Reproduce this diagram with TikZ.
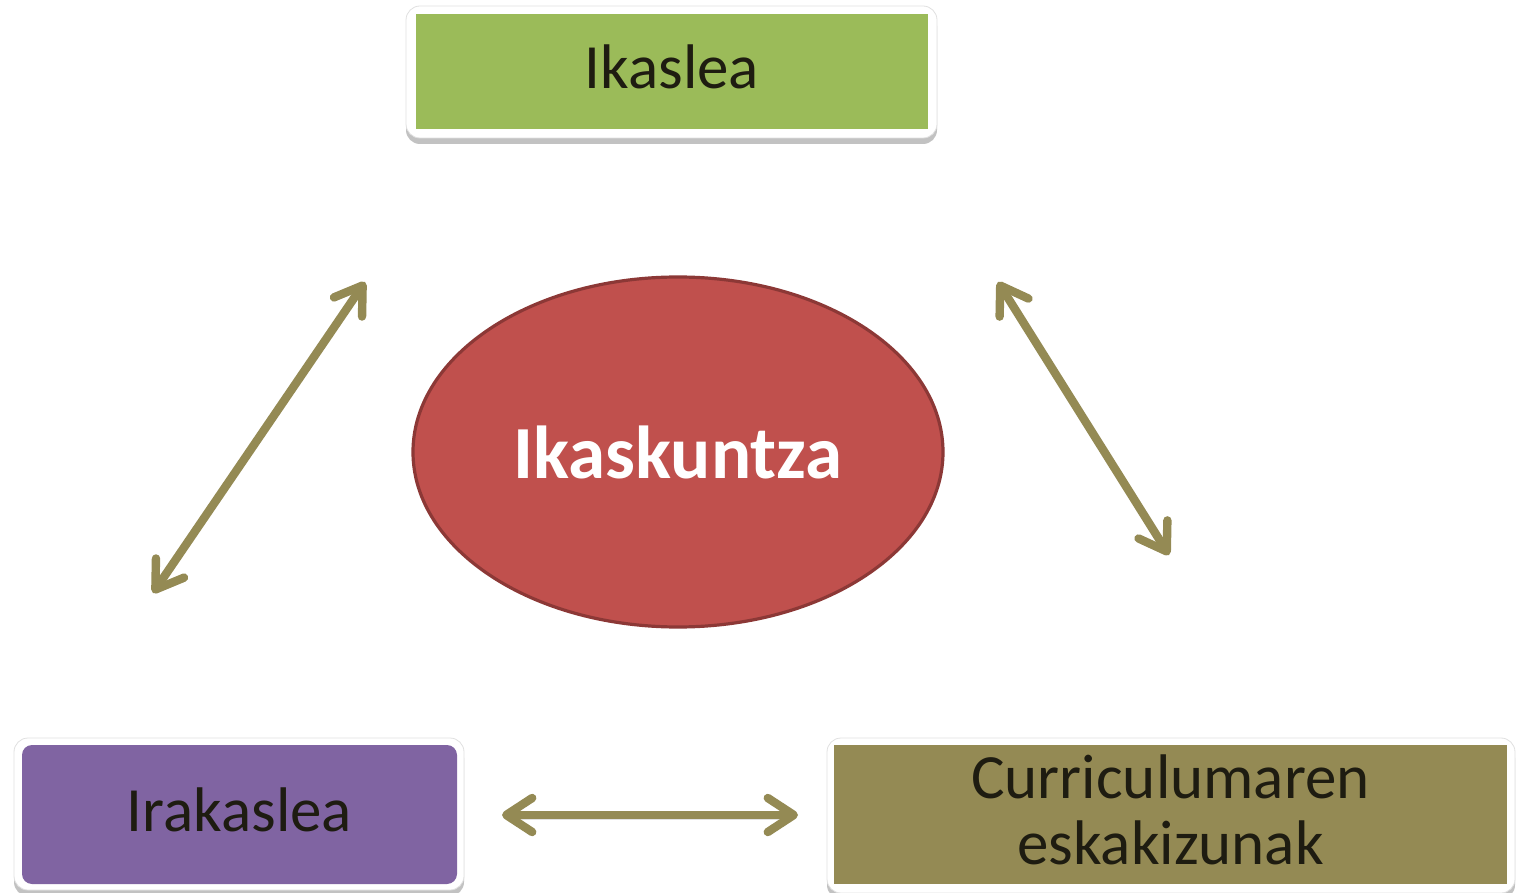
\documentclass[tikz,border=0pt]{standalone}
\usepackage{fontspec}
\setmainfont{Carlito}
\usetikzlibrary{arrows.meta,shadows,shapes.geometric}
\definecolor{cgreen}{HTML}{9BBB59}
\definecolor{cpurple}{HTML}{8064A2}
\definecolor{colive}{HTML}{948A54}
\definecolor{cred}{HTML}{C0504D}
\definecolor{credb}{HTML}{8C3836}
\definecolor{ctext}{HTML}{1E1C11}
\tikzset{
  frame/.style={draw=black!12, line width=0.4pt, fill=white, rounded corners=7pt,
    drop shadow={shadow xshift=0pt, shadow yshift=-3pt, opacity=0.4, fill=black!60}},
  inner/.style={draw=none, align=center, text=ctext, font=\fontsize{31.5}{33}\selectfont,
    inner sep=0pt, text depth=5pt},
  link/.style={draw=colive, line width=4.2pt,
    {Straight Barb[length=13pt,width=17pt,round]}-{Straight Barb[length=13pt,width=17pt,round]},
    preaction={draw=black, opacity=0.12, transform canvas={yshift=-2pt}}},
}
\begin{document}
\begin{tikzpicture}[x=0.5pt,y=-0.5pt]
\useasboundingbox (0,0) rectangle (1517,893);
% top box
\node[frame, minimum width=265.5pt, minimum height=66pt] (ikf) at (671.5,72) {};
\node[inner, fill=cgreen, minimum width=256pt, minimum height=57.5pt] (ikaslea) at (672,71.5) {Ikaslea};
% bottom left
\node[frame, minimum width=225pt, minimum height=76pt] (irf) at (239,814) {};
\node[inner, fill=cpurple, rounded corners=5pt, minimum width=217.5pt, minimum height=69.5pt] (irakaslea) at (239.5,814.5) {Irakaslea};
% bottom right
\node[frame, minimum width=344pt, minimum height=77.5pt] (cuf) at (1171,815.5) {};
\node[inner, fill=colive, minimum width=336.5pt, minimum height=69.5pt] (curr) at (1170.5,814.5) {Curriculumaren\\eskakizunak};
% ellipse
\node[ellipse, fill=cred, draw=credb, line width=1.6pt, minimum width=265pt, minimum height=175pt,
  text=white, font=\fontsize{37.5}{40}\selectfont\bfseries] (ikask) at (678,452) {Ikaskuntza};
% arrows
\coordinate (l1) at (365,282);
\coordinate (l2) at (153,593);
\coordinate (r1) at (998,282);
\coordinate (r2) at (1169,555);
\coordinate (b1) at (502,815);
\coordinate (b2) at (798,815);
\draw[link] (l2) -- (l1);
\draw[link] (r1) -- (r2);
\draw[link] (b1) -- (b2);
\end{tikzpicture}
\end{document}
